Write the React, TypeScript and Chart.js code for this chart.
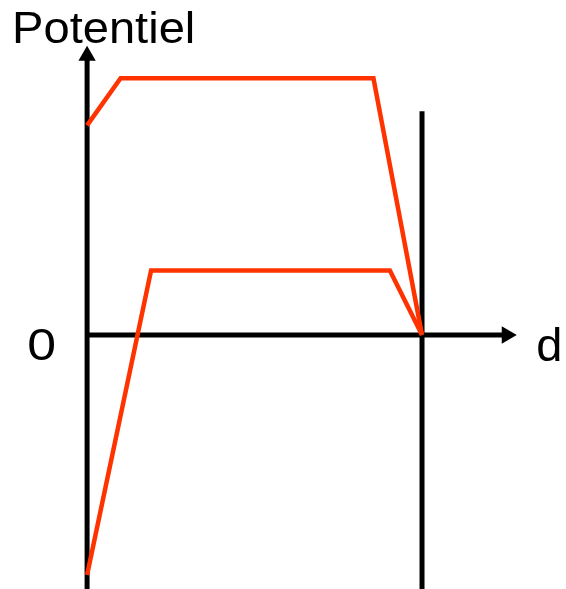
import React, { useEffect, useRef } from "react";
import { Chart, registerables } from "chart.js";

Chart.register(...registerables);

// distance axis (d) and potential values
const upperD = [0, 1, 8.55, 10];
const upperV = [3.25, 3.98, 3.98, 0];
const lowerD = [0, 1.91, 9.04, 10];
const lowerV = [-3.72, 1, 1, 0];

// axes / wall lines
const yAxisD = [0, 0];
const yAxisV = [-4.1, 4.33];
const xAxisD = [0, 12.53];
const xAxisV = [0, 0];
const wallD = [10, 10];
const wallV = [-4.1, 3.47];

const yTitle = "Potentiel";
const xTitle = "d";
const zeroLabel = "0";

const RED = "#FF3300";
const BLACK = "#000000";
const FONT = "'Liberation Sans', Arial, Helvetica, sans-serif";

const toPts = (xs: number[], ys: number[]) => xs.map((x, i) => ({ x, y: ys[i] }));

const textPlugin = {
  id: "diagramText",
  afterDraw(chart: any) {
    const ctx = chart.ctx as CanvasRenderingContext2D;
    const xs = chart.scales.x;
    const ys = chart.scales.y;
    const draw = (t: string, x: number, y: number, size: number, sx: number, align: CanvasTextAlign) => {
      ctx.save();
      ctx.font = `${size}px ${FONT}`;
      ctx.fillStyle = BLACK;
      ctx.textAlign = align;
      ctx.textBaseline = "alphabetic";
      ctx.translate(x, y);
      ctx.scale(sx, 1);
      ctx.fillText(t, 0, 0);
      ctx.restore();
    };
    const x0 = xs.getPixelForValue(0);
    const y0 = ys.getPixelForValue(0);
    draw(yTitle, x0 - 75, y0 - 292, 44, 1.07, "left");
    draw(zeroLabel, x0 - 45.5, y0 + 24.5, 45, 1.15, "center");
    draw(xTitle, xs.getPixelForValue(13.8), y0 + 26, 47, 1.0, "center");
  },
};

export default function App() {
  const ref = useRef<HTMLCanvasElement | null>(null);
  useEffect(() => {
    if (!ref.current) return;
    const chart = new Chart(ref.current, {
      type: "line",
      data: {
        datasets: [
          {
            data: toPts(upperD, upperV),
            borderColor: RED,
            borderWidth: 4.5,
            borderJoinStyle: "miter",
            pointRadius: 0,
            clip: false,
          } as any,
          {
            data: toPts(lowerD, lowerV),
            borderColor: RED,
            borderWidth: 4.5,
            borderJoinStyle: "miter",
            pointRadius: 0,
            clip: false,
          } as any,
          {
            data: toPts(yAxisD, yAxisV),
            borderColor: BLACK,
            borderWidth: 5,
            pointRadius: [0, 10],
            pointStyle: "triangle",
            pointRotation: [0, 0],
            pointBackgroundColor: BLACK,
            pointBorderWidth: 0,
            clip: false,
          } as any,
          {
            data: toPts(xAxisD, xAxisV),
            borderColor: BLACK,
            borderWidth: 5,
            pointRadius: [0, 10],
            pointStyle: "triangle",
            pointRotation: [90, 90],
            pointBackgroundColor: BLACK,
            pointBorderWidth: 0,
            clip: false,
          } as any,
          {
            data: toPts(wallD, wallV),
            borderColor: BLACK,
            borderWidth: 5,
            pointRadius: 0,
            clip: false,
          } as any,
        ],
      },
      options: {
        responsive: false,
        animation: false,
        events: [],
        layout: { padding: { left: 20.1, right: 6.7, top: 44.75, bottom: 12.1 } },
        plugins: { legend: { display: false }, tooltip: { enabled: false } },
        scales: {
          x: { type: "linear", min: -2, max: 14, display: false },
          y: { type: "linear", min: -3.75, max: 4.5, display: false },
        },
      },
      plugins: [textPlugin],
    });
    return () => chart.destroy();
  }, []);
  return (
    <div style={{ position: "absolute", left: 0, top: 0, width: 566, height: 589, background: "#fff" }}>
      <canvas ref={ref} width={566} height={589} />
    </div>
  );
}
